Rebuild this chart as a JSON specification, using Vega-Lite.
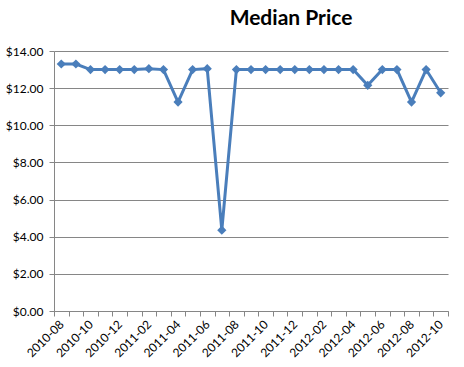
{
  "$schema": "https://vega.github.io/schema/vega-lite/v6.json",
  "width": 394,
  "height": 260,
  "autosize": {"type": "none"},
  "padding": {"left": 54, "top": 51, "right": 16, "bottom": 56},
  "background": "white",
  "title": {
    "text": "Median Price",
    "font": "Lato",
    "fontSize": 21,
    "fontWeight": "bold",
    "color": "#000000",
    "anchor": "middle",
    "dx": 40,
    "baseline": "alphabetic",
    "offset": -1
  },
  "data": {
    "values": [
      {"month": "2010-08", "price": 13.30},
      {"month": "2010-09", "price": 13.30},
      {"month": "2010-10", "price": 13.00},
      {"month": "2010-11", "price": 13.00},
      {"month": "2010-12", "price": 13.00},
      {"month": "2011-01", "price": 13.00},
      {"month": "2011-02", "price": 13.05},
      {"month": "2011-03", "price": 13.00},
      {"month": "2011-04", "price": 11.25},
      {"month": "2011-05", "price": 13.00},
      {"month": "2011-06", "price": 13.05},
      {"month": "2011-07", "price": 4.35},
      {"month": "2011-08", "price": 13.00},
      {"month": "2011-09", "price": 13.00},
      {"month": "2011-10", "price": 13.00},
      {"month": "2011-11", "price": 13.00},
      {"month": "2011-12", "price": 13.00},
      {"month": "2012-01", "price": 13.00},
      {"month": "2012-02", "price": 13.00},
      {"month": "2012-03", "price": 13.00},
      {"month": "2012-04", "price": 13.00},
      {"month": "2012-05", "price": 12.15},
      {"month": "2012-06", "price": 13.00},
      {"month": "2012-07", "price": 13.00},
      {"month": "2012-08", "price": 11.25},
      {"month": "2012-09", "price": 13.00},
      {"month": "2012-10", "price": 11.75}
    ]
  },
  "encoding": {
    "x": {
      "field": "month",
      "type": "nominal",
      "sort": null,
      "bandPosition": 0.5,
      "scale": {"type": "band", "paddingInner": 0, "paddingOuter": 0},
      "axis": {
        "title": null,
        "tickBand": "extent",
        "labelAngle": -45,
        "labelAlign": "right",
        "labelBaseline": "middle",
        "labelFont": "Lato",
        "labelFontSize": 12,
        "labelColor": "#000000",
        "labelPadding": 6,
        "tickSize": 5,
        "tickColor": "#868686",
        "domainColor": "#868686",
        "grid": false,
        "labelExpr": "parseInt(substring(datum.value, 5, 7)) % 2 == 0 ? datum.value : ''"
      }
    },
    "y": {
      "field": "price",
      "type": "quantitative",
      "scale": {"domain": [0, 14], "nice": false},
      "axis": {
        "title": null,
        "values": [0, 2, 4, 6, 8, 10, 12, 14],
        "format": "$.2f",
        "labelFont": "Lato",
        "labelFontSize": 12,
        "labelColor": "#000000",
        "labelPadding": 6,
        "tickSize": 5,
        "tickColor": "#868686",
        "domainColor": "#868686",
        "gridColor": "#868686",
        "gridOpacity": 1
      }
    }
  },
  "layer": [
    {"mark": {"type": "line", "color": "#4A7EBB", "strokeWidth": 3}},
    {"mark": {"type": "point", "shape": "diamond", "filled": true, "color": "#4A7EBB", "size": 85, "opacity": 1}}
  ],
  "config": {"view": {"stroke": null}}
}
